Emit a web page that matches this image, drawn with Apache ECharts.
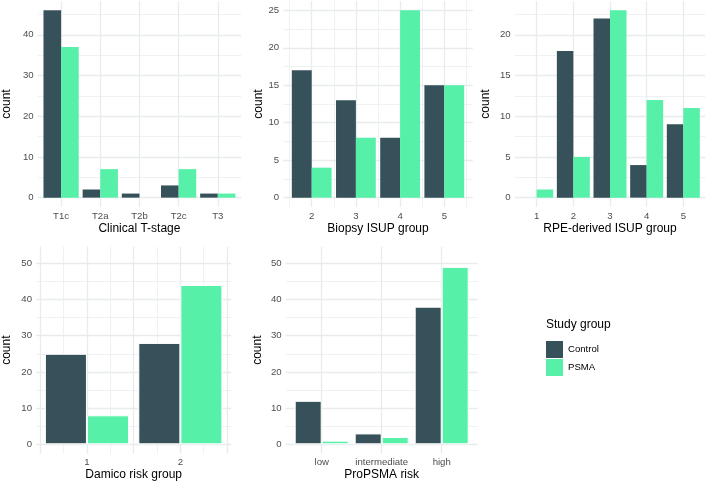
<!DOCTYPE html>
<html><head><meta charset="utf-8">
<script src="https://cdn.jsdelivr.net/npm/echarts@6/dist/echarts.min.js"></script>
<style>html,body{margin:0;padding:0;background:#fff}#c{width:706px;height:482px}</style>
</head><body><div id="c"></div>
<script>
// ---- data ----
const tstageCats = ['T1c', 'T2a', 'T2b', 'T2c', 'T3'];
const tstageControl = [46, 2, 1, 3, 1];
const tstagePSMA = [37, 7, 0, 7, 1];

const biopsyGroups = [2, 3, 4, 5];
const biopsyControl = [17, 13, 8, 15];
const biopsyPSMA = [4, 8, 25, 15];

const rpeGroups = [1, 2, 3, 4, 5];
const rpeControl = [0, 18, 22, 4, 9];
const rpePSMA = [1, 5, 23, 12, 11];

const damicoGroups = [1, 2];
const damicoControl = [25, 28];
const damicoPSMA = [8, 44];

const propsmaCats = ['low', 'intermediate', 'high'];
const propsmaControl = [12, 3, 38];
const propsmaPSMA = [1, 2, 49];

const seriesNames = ['Control', 'PSMA'];

// ---- tick / grid breaks ----
const yMajorT = [0, 10, 20, 30, 40], yMinorT = [5, 15, 25, 35, 45];
const yMajorBi = [0, 5, 10, 15, 20, 25], yMinorBi = [2.5, 7.5, 12.5, 17.5, 22.5];
const yMajorR = [0, 5, 10, 15, 20], yMinorR = [2.5, 7.5, 12.5, 17.5, 22.5];
const yMajorBottom = [0, 10, 20, 30, 40, 50], yMinorBottom = [5, 15, 25, 35, 45];
const biopsyXMinor = [1.5, 2.5, 3.5, 4.5, 5.5];
const damicoXMajor = [0.5, 1, 1.5, 2, 2.5], damicoXMinor = [0.75, 1.25, 1.75, 2.25];
const bottomYTop = 52;

// ---- style ----
const colControl = '#365159', colPSMA = '#56F0A8';
const gridCol = '#E8ECEC';
const FONT = '"Liberation Sans", Arial, sans-serif';
const TICK_FS = 9.6, TITLE_FS = 12;

function idx(n) { return Array.from({length: n}, (_, i) => i + 1); }

const panels = [
  {title: 'Clinical T-stage', discrete: true, labels: tstageCats, x: idx(tstageCats.length),
   control: tstageControl, psma: tstagePSMA, yMajor: yMajorT, yMinor: yMinorT, yTop: null,
   border: false, box: {l: 36.4, r: 241.3, t: 1, b: 207}, yTitleX: 5, xTitleY: 229.3},
  {title: 'Biopsy ISUP group', discrete: false, labels: biopsyGroups, x: biopsyGroups,
   control: biopsyControl, psma: biopsyPSMA, yMajor: yMajorBi, yMinor: yMinorBi, yTop: null,
   xMajor: biopsyGroups, xMinor: biopsyXMinor,
   border: false, box: {l: 283.2, r: 472.8, t: 1, b: 207}, yTitleX: 258, xTitleY: 229.3},
  {title: 'RPE-derived ISUP group', discrete: true, labels: rpeGroups, x: rpeGroups,
   control: rpeControl, psma: rpePSMA, yMajor: yMajorR, yMinor: yMinorR, yTop: null,
   border: false, box: {l: 514.7, r: 705.3, t: 1, b: 207}, yTitleX: 485.3, xTitleY: 229.3},
  {title: 'Damico risk group', discrete: false, labels: damicoGroups, x: damicoGroups,
   control: damicoControl, psma: damicoPSMA, yMajor: yMajorBottom, yMinor: yMinorBottom, yTop: bottomYTop,
   xMajor: damicoXMajor, xMinor: damicoXMinor,
   border: true, box: {l: 34.8, r: 231.3, t: 246.6, b: 453.7}, yTitleX: 5, xTitleY: 475.3},
  {title: 'ProPSMA risk', discrete: true, labels: propsmaCats, x: idx(propsmaCats.length),
   control: propsmaControl, psma: propsmaPSMA, yMajor: yMajorBottom, yMinor: yMinorBottom, yTop: bottomYTop,
   border: true, box: {l: 285.7, r: 477.7, t: 246.6, b: 453.7}, yTitleX: 257, xTitleY: 475.3}
];

const grid = [], xAxis = [], yAxis = [], series = [];
panels.forEach((p, i) => {
  const b = p.box;
  grid.push({left: b.l, top: b.t, width: b.r - b.l, height: b.b - b.t, containLabel: false});
  let xmin, xmax, xMajor, xMinor, labelVals;
  if (p.discrete) {
    xmin = 0.4; xmax = p.x.length + 0.6;
    xMajor = p.x.slice(); xMinor = []; labelVals = p.x.slice();
  } else {
    const lo = Math.min(...p.x) - 0.45, hi = Math.max(...p.x) + 0.45, pad = 0.05 * (hi - lo);
    xmin = lo - pad; xmax = hi + pad;
    xMajor = p.xMajor; xMinor = p.xMinor; labelVals = p.x.slice();
  }
  const top = p.yTop != null ? p.yTop : Math.max(...p.control, ...p.psma);
  const ymin = -0.05 * top, ymax = 1.05 * top;
  const fmt = p.discrete ? (v => String(p.labels[Math.round(v) - 1])) : (v => String(v));

  xAxis.push({
    type: 'value', gridIndex: i, min: xmin, max: xmax,
    name: p.title, nameLocation: 'middle', nameGap: p.xTitleY - b.b - 6.8,
    nameTextStyle: {fontSize: TITLE_FS, color: '#000', fontFamily: FONT},
    axisLine: {show: false, onZero: false}, axisTick: {show: false, customValues: xMajor},
    axisLabel: {customValues: labelVals, formatter: fmt, fontSize: TICK_FS, color: '#4D4D4D', margin: 4, fontFamily: FONT},
    splitLine: {show: true, lineStyle: {color: gridCol, width: 1.3}}
  });
  xAxis.push({
    type: 'value', gridIndex: i, min: xmin, max: xmax, position: 'bottom',
    axisLine: {show: false, onZero: false}, axisTick: {show: false, customValues: xMinor.length ? xMinor : [xmin - 1]},
    axisLabel: {show: false},
    splitLine: {show: xMinor.length > 0, lineStyle: {color: gridCol, width: 0.7}}
  });
  yAxis.push({
    type: 'value', gridIndex: i, min: ymin, max: ymax,
    name: 'count', nameLocation: 'middle', nameGap: b.l - p.yTitleX - 6.8,
    nameTextStyle: {fontSize: TITLE_FS, color: '#000', fontFamily: FONT},
    axisLine: {show: false}, axisTick: {show: false, customValues: p.yMajor},
    axisLabel: {customValues: p.yMajor, fontSize: TICK_FS, color: '#4D4D4D', margin: 4, fontFamily: FONT},
    splitLine: {show: true, lineStyle: {color: gridCol, width: 1.3}}
  });
  yAxis.push({
    type: 'value', gridIndex: i, min: ymin, max: ymax, position: 'left',
    axisLine: {show: false}, axisTick: {show: false, customValues: p.yMinor},
    axisLabel: {show: false},
    splitLine: {show: true, lineStyle: {color: gridCol, width: 0.7}}
  });
  [[seriesNames[0], p.control, colControl], [seriesNames[1], p.psma, colPSMA]].forEach(([nm, vals, col]) => {
    series.push({
      type: 'bar', name: nm, xAxisIndex: 2 * i, yAxisIndex: 2 * i,
      data: p.x.map((xv, j) => [xv, vals[j]]),
      barWidth: '45%', barGap: '0%',
      itemStyle: {color: col, borderColor: p.border ? '#FFFFFF' : col, borderWidth: p.border ? 1 : 0},
      silent: true
    });
  });
});

const chart = echarts.init(document.getElementById('c'), null, {renderer: 'canvas'});
chart.setOption({
  animation: false,
  backgroundColor: '#FFFFFF',
  textStyle: {fontFamily: FONT},
  title: {text: 'Study group', left: 541, top: 314,
          textStyle: {fontSize: TITLE_FS, fontWeight: 'normal', color: '#000', fontFamily: FONT}},
  legend: {orient: 'vertical', left: 541, top: 336, itemWidth: 17, itemHeight: 17, itemGap: 1,
           icon: 'rect', data: seriesNames, selectedMode: false,
           itemStyle: {borderWidth: 0},
           textStyle: {fontSize: TICK_FS, color: '#000', fontFamily: FONT}},
  grid, xAxis, yAxis, series
});
</script>
</body></html>
